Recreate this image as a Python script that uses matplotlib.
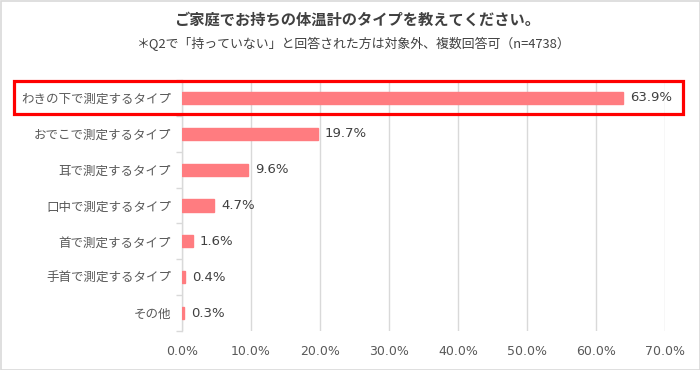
import matplotlib
matplotlib.use("Agg")
import matplotlib.pyplot as plt
from matplotlib.patches import Rectangle
from matplotlib.ticker import FixedLocator, FuncFormatter

plt.rcParams['font.family'] = ['Noto Sans CJK JP', 'DejaVu Sans']

categories = ["わきの下で測定するタイプ", "おでこで測定するタイプ", "耳で測定するタイプ",
              "口中で測定するタイプ", "首で測定するタイプ", "手首で測定するタイプ", "その他"]
values = [63.9, 19.7, 9.6, 4.7, 1.6, 0.4, 0.3]
value_labels = ["63.9%", "19.7%", "9.6%", "4.7%", "1.6%", "0.4%", "0.3%"]
xticks = [0, 10, 20, 30, 40, 50, 60, 70]
title = "ご家庭でお持ちの体温計のタイプを教えてください。"
subtitle = "＊Q2で「持っていない」と回答された方は対象外、複数回答可（n=4738）"

W, H = 700, 370
fig = plt.figure(figsize=(W / 100, H / 100), dpi=100)
ax = fig.add_axes([182 / W, 1 - 331 / H, (665 - 182) / W, (331 - 80) / H])

n = len(categories)
ypos = list(range(n))
ax.barh(ypos, values, height=0.34, color="#FF7C80", edgecolor="#FF7C80", zorder=3)
for y, v, lab in zip(ypos, values, value_labels):
    ax.text(v + 1.0, y, lab, va="center", ha="left", fontsize=9.5, color="#404040",
            family=['DejaVu Sans'])

ax.set_xlim(0, 70)
ax.set_ylim(n - 0.5, -0.5)
ax.set_xticks(xticks)
ax.xaxis.set_major_formatter(FuncFormatter(lambda x, p: f"{x:.1f}%"))
ax.tick_params(axis='x', length=0, labelsize=9, labelcolor="#595959", pad=10)
for lbl in ax.get_xticklabels():
    lbl.set_family(['DejaVu Sans'])
ax.grid(axis='x', color="#d9d9d9", linewidth=1, zorder=0)
ax.set_axisbelow(True)

ax.set_yticks(ypos)
ax.set_yticklabels(categories, fontsize=9, color="#595959")
ax.tick_params(axis='y', length=0, pad=8)
ax.yaxis.set_minor_locator(FixedLocator([i - 0.5 for i in range(n + 1)]))
ax.tick_params(axis='y', which='minor', length=4, color="#d9d9d9", width=1)

for s in ['top', 'right', 'bottom']:
    ax.spines[s].set_visible(False)
ax.spines['left'].set_color("#d9d9d9")
ax.spines['left'].set_linewidth(1)

fig.text(357 / W, 1 - 20 / H, title, ha="center", va="center", fontsize=11,
         fontweight="bold", color="#404040")
fig.text(354 / W, 1 - 44 / H, subtitle, ha="center", va="center", fontsize=9.3,
         color="#404040")

# highlight box
fig.patches.append(Rectangle((14 / W, 1 - 114 / H), (683 - 14) / W, (114 - 81) / H,
                             transform=fig.transFigure, fill=False,
                             edgecolor="#FF0000", linewidth=2.3, zorder=10))
# outer border
fig.patches.append(Rectangle((0.5 / W, 0.5 / H), (W - 1) / W, (H - 1) / H,
                             transform=fig.transFigure, fill=False,
                             edgecolor="#d9d9d9", linewidth=1.2, zorder=10))

fig.savefig("out.png", dpi=100)
